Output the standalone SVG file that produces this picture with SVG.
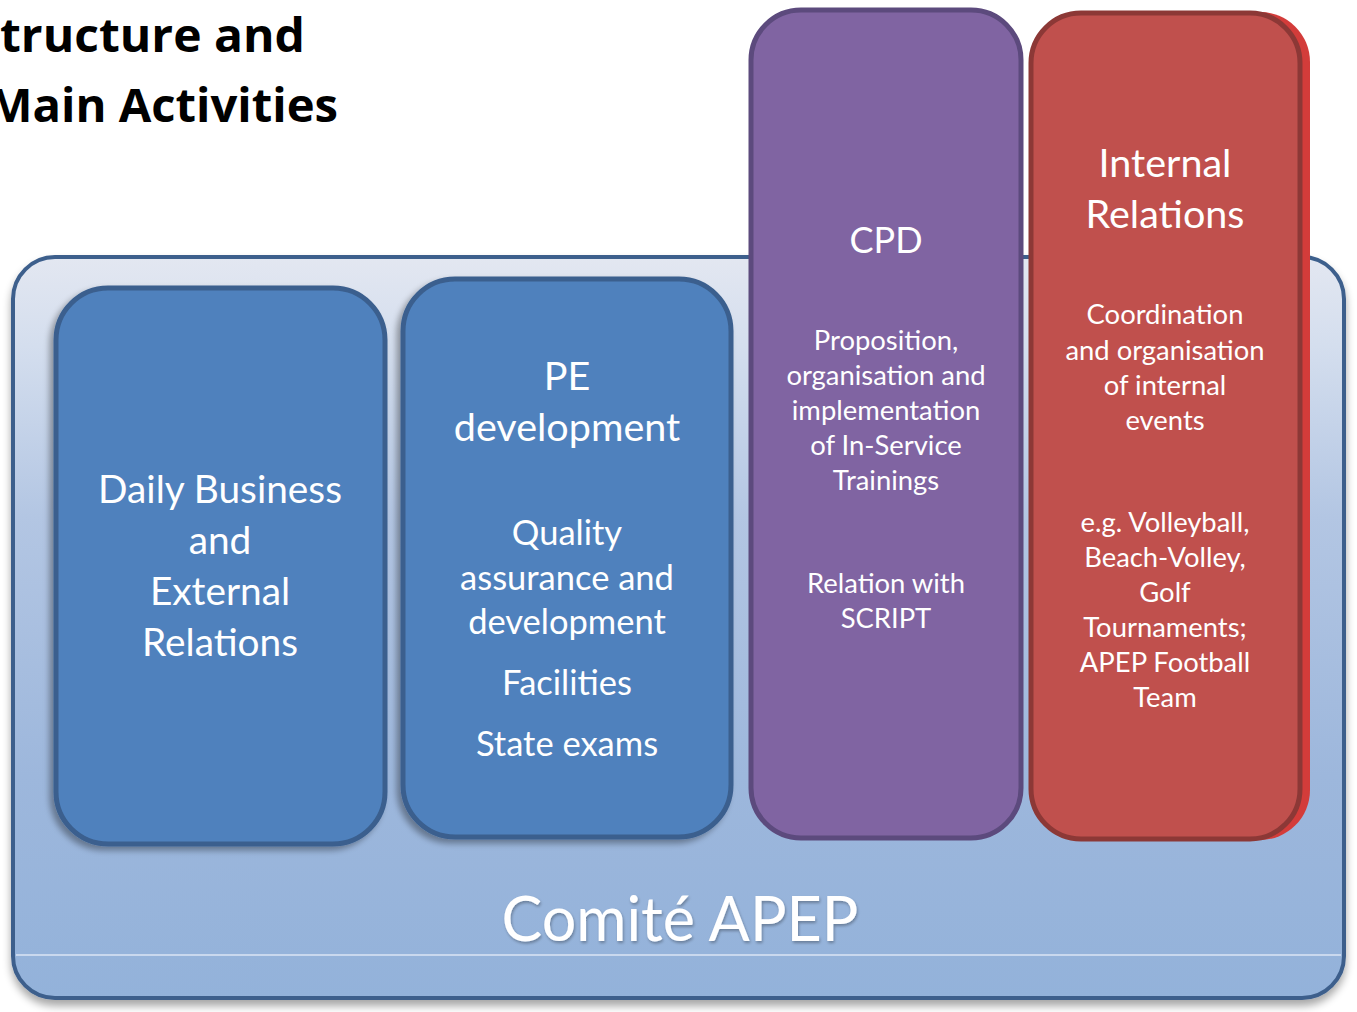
<svg xmlns="http://www.w3.org/2000/svg" width="1357" height="1012" viewBox="0 0 1357 1012">
<style>
.t{font-family:Lato,"Open Sans","Liberation Sans",sans-serif;fill:#fff;text-anchor:middle}
.h{font-size:39.5px}
.b{font-size:34.5px}
.s{font-size:27.4px}
.title{font-family:"Open Sans","Liberation Sans",sans-serif;font-weight:bold;font-size:46px;fill:#000}
</style>
<defs>
<linearGradient id="bg" x1="0" y1="0" x2="0" y2="1">
<stop offset="0" stop-color="#e3e7f1"/>
<stop offset="0.12" stop-color="#d4deee"/>
<stop offset="0.35" stop-color="#b3c6e3"/>
<stop offset="0.7" stop-color="#9db7dc"/>
<stop offset="1" stop-color="#93b2da"/>
</linearGradient>
<filter id="sh" x="-10%" y="-10%" width="120%" height="120%">
<feGaussianBlur in="SourceAlpha" stdDeviation="3"/>
<feOffset dx="-4" dy="4"/>
<feComponentTransfer><feFuncA type="linear" slope="0.35"/></feComponentTransfer>
<feMerge><feMergeNode/><feMergeNode in="SourceGraphic"/></feMerge>
</filter>
<filter id="osh" x="-5%" y="-5%" width="110%" height="110%">
<feGaussianBlur in="SourceAlpha" stdDeviation="4"/>
<feOffset dx="0" dy="6"/>
<feComponentTransfer><feFuncA type="linear" slope="0.35"/></feComponentTransfer>
<feMerge><feMergeNode/><feMergeNode in="SourceGraphic"/></feMerge>
</filter>
<filter id="tsh" x="-5%" y="-20%" width="110%" height="140%">
<feGaussianBlur in="SourceAlpha" stdDeviation="1.5"/>
<feOffset dx="1" dy="2"/>
<feComponentTransfer><feFuncA type="linear" slope="0.3"/></feComponentTransfer>
<feMerge><feMergeNode/><feMergeNode in="SourceGraphic"/></feMerge>
</filter>
</defs>

<g id="title">
<text class="title" x="0" y="52" textLength="305" lengthAdjust="spacingAndGlyphs">tructure and</text>
<text class="title" x="-12" y="122" textLength="350" lengthAdjust="spacingAndGlyphs">Main Activities</text>
</g>

<g id="comite">
<rect x="13" y="257" width="1331" height="741" rx="42" fill="url(#bg)" stroke="#3d5f8c" stroke-width="4" filter="url(#osh)"/>
<line x1="16" y1="955" x2="1341" y2="955" stroke="#c9d8ee" stroke-width="2"/>
<text class="t" x="680" y="941" font-size="61" fill="#f2f5fb" filter="url(#tsh)">Comité APEP</text>
</g>

<g id="connectors"></g>

<g id="daily">
<rect x="56" y="288" width="329" height="556" rx="52" fill="#4f81bd" stroke="#3a5f8e" stroke-width="5" filter="url(#sh)"/>
<text class="t" font-size="38.8" x="220" y="503">Daily Business</text>
<text class="t" font-size="38.8" x="220" y="554">and</text>
<text class="t" font-size="38.8" x="220" y="605">External</text>
<text class="t" font-size="38.8" x="220" y="656">Relations</text>
</g>

<g id="pe">
<rect x="403" y="279" width="328" height="558" rx="52" fill="#4f81bd" stroke="#3a5f8e" stroke-width="5" filter="url(#sh)"/>
<text class="t h" x="567" y="390">PE</text>
<text class="t h" x="567" y="441">development</text>
<text class="t b" x="567" y="545">Quality</text>
<text class="t b" x="567" y="590">assurance and</text>
<text class="t b" x="567" y="634">development</text>
<text class="t b" x="567" y="695">Facilities</text>
<text class="t b" x="567" y="756">State exams</text>
</g>

<g id="cpd">
<rect x="751" y="10" width="270" height="828" rx="50" fill="#8064a2" stroke="#5c4a7d" stroke-width="5"/>
<text class="t" font-size="36" x="886" y="253">CPD</text>
<text class="t s" x="886" y="350">Proposition,</text>
<text class="t s" x="886" y="385">organisation and</text>
<text class="t s" x="886" y="420">implementation</text>
<text class="t s" x="886" y="455">of In-Service</text>
<text class="t s" x="886" y="490">Trainings</text>
<text class="t s" x="886" y="593">Relation with</text>
<text class="t s" x="886" y="628">SCRIPT</text>
</g>

<g id="internal">
<rect x="1034" y="12" width="276" height="828" rx="50" fill="#d33c3a"/>
<rect x="1031" y="13" width="269" height="826" rx="50" fill="#c0504d" stroke="#8c3836" stroke-width="5"/>
<text class="t h" x="1165" y="177">Internal</text>
<text class="t h" x="1165" y="228">Relations</text>
<text class="t s" x="1165" y="324">Coordination</text>
<text class="t s" x="1165" y="360">and organisation</text>
<text class="t s" x="1165" y="395">of internal</text>
<text class="t s" x="1165" y="430">events</text>
<text class="t s" x="1165" y="532">e.g. Volleyball,</text>
<text class="t s" x="1165" y="567">Beach-Volley,</text>
<text class="t s" x="1165" y="602">Golf</text>
<text class="t s" x="1165" y="637">Tournaments;</text>
<text class="t s" x="1165" y="672">APEP Football</text>
<text class="t s" x="1165" y="707">Team</text>
</g>
</svg>
